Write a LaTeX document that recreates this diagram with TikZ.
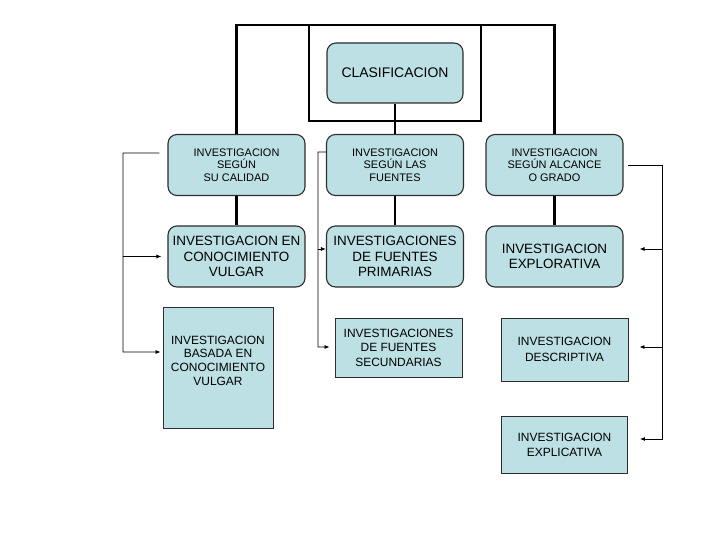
\documentclass[tikz,border=0pt]{standalone}
\usepackage{fontspec}
\setmainfont{Liberation Sans}
\usetikzlibrary{arrows.meta}
\definecolor{boxfill}{RGB}{188,224,228}
\definecolor{boxline}{RGB}{45,45,45}

\begin{document}
\begin{tikzpicture}[x=1bp, y=-1bp, >={Latex[length=5bp,width=4bp]},
    box/.style={draw=boxline, line width=1.1bp, fill=boxfill, rounded corners=9bp,
                inner sep=0pt, align=center},
    sqbox/.style={box, sharp corners, line width=0.9bp},
    top/.style={minimum width=137bp, minimum height=61bp,
                font=\fontsize{11}{12.5}\selectfont},
    mid/.style={minimum width=137bp, minimum height=61bp,
                font=\fontsize{13.5}{15.6}\selectfont},
    low/.style={font=\fontsize{12}{14.5}\selectfont},
    tree/.style={line width=2.6bp},
    link/.style={line width=0.8bp, draw=black}]
    \useasboundingbox (0,0) rectangle (728,546);

    % head
    \node[draw, line width=2.6bp, outer sep=0pt, minimum width=172bp,
          minimum height=96bp] (frame) at (395,73) {};
    \node[box, minimum width=136bp, minimum height=60bp,
          font=\fontsize{14}{16}\selectfont] (clasif) at (395,73) {CLASIFICACION};

    % first row
    \node[box, top] (calidad) at (236.5,165) {INVESTIGACION\\SEGÚN\\SU CALIDAD};
    \node[box, top] (fuentes) at (395,165) {INVESTIGACION\\SEGÚN LAS\\FUENTES};
    \node[box, top] (alcance) at (554.5,165) {INVESTIGACION\\SEGÚN ALCANCE\\O GRADO};

    % second row
    \node[box, mid] (vulgar) at (236.5,256.5) {INVESTIGACION EN\\CONOCIMIENTO\\VULGAR};
    \node[box, mid] (primarias) at (395,256.5) {INVESTIGACIONES\\DE FUENTES\\PRIMARIAS};
    \node[box, mid] (explorativa) at (554.5,256.5) {INVESTIGACION\\EXPLORATIVA};

    % lower boxes
    \node[sqbox, low, font=\fontsize{12}{13.8}\selectfont, minimum width=110bp,
          minimum height=121bp, text depth=14bp] (basada) at (218,367.5)
          {INVESTIGACION\\BASADA EN\\CONOCIMIENTO\\VULGAR};
    \node[sqbox, low, minimum width=127bp, minimum height=59bp] (secundarias)
          at (398.5,347.5) {INVESTIGACIONES\\DE FUENTES\\SECUNDARIAS};
    \node[sqbox, low, font=\fontsize{12}{15.5}\selectfont, minimum width=127bp,
          minimum height=63bp] (descriptiva) at (564.5,349.5)
          {INVESTIGACION\\DESCRIPTIVA};
    \node[sqbox, low, minimum width=126bp, minimum height=57bp] (explicativa)
          at (564.5,445) {INVESTIGACION\\EXPLICATIVA};

    % tree
    \draw[tree] (calidad.north) |- (frame.north) -| (alcance.north);
    \draw[tree] (clasif) -- (fuentes);
    \draw[tree] (calidad) -- (vulgar);
    \draw[tree] (fuentes) -- (primarias);
    \draw[tree] (alcance) -- (explorativa);

    % side links
    \coordinate (lbus) at (123,153);
    \coordinate (mbus) at (318,152);
    \coordinate (rbus) at (662,165);
    \draw[link, ->, shorten >=2bp] ([xshift=-8bp,yshift=12bp]calidad.west) -- (lbus)
        |- ([yshift=15.5bp]basada.west);
    \draw[link, ->, shorten >=6bp] (vulgar.west -| lbus) -- (vulgar.west);
    \draw[link, ->, shorten >=5bp] ([yshift=13bp]fuentes.west) -- (mbus)
        |- ([yshift=0.5bp]secundarias.west);
    \draw[link, ->] ([yshift=7.5bp]primarias.west -| mbus) -- ([yshift=7.5bp]primarias.west);
    \draw[link, ->, shorten >=12bp] ([xshift=4bp]alcance.east) -- (rbus)
        |- ([yshift=6bp]explicativa.east);
    \draw[link, ->, shorten >=16bp] ([yshift=7.5bp]explorativa.east -| rbus)
        -- ([yshift=7.5bp]explorativa.east);
    \draw[link, ->, shorten >=11bp] ([yshift=2.5bp]descriptiva.east -| rbus)
        -- ([yshift=2.5bp]descriptiva.east);
\end{tikzpicture}
\end{document}
